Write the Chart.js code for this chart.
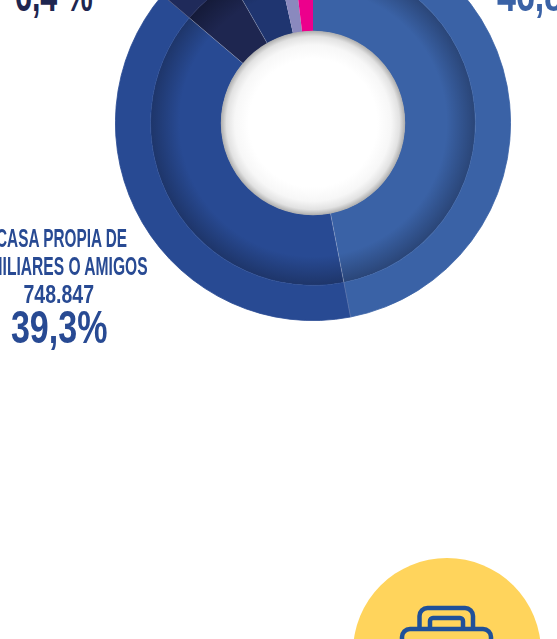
<!DOCTYPE html>
<html lang="es">
<head>
<meta charset="utf-8">
<style>
html,body{margin:0;padding:0;width:557px;height:639px;overflow:hidden;background:#fff}
#wrap{position:absolute;left:115px;top:-75px;width:396px;height:396px}
.t{position:absolute;white-space:nowrap;font-family:"Liberation Sans Narrow","Liberation Sans",sans-serif;font-weight:700;line-height:1;transform-origin:right top}
</style>
<script src="https://cdn.jsdelivr.net/npm/chart.js@4/dist/chart.umd.min.js"></script>
</head>
<body>
<div id="wrap"><canvas id="c" width="396" height="396"></canvas></div>

<div class="t" style="right:430px;top:225px;font-size:26px;color:#284A93;transform:scaleX(.59)">CASA PROPIA DE</div>
<div class="t" style="right:409px;top:253px;font-size:26px;color:#284A93;transform:scaleX(.6)">FAMILIARES O AMIGOS</div>
<div class="t" style="right:463px;top:281px;font-size:26px;color:#284A93;transform:scaleX(.75)">748.847</div>
<div class="t" style="right:450px;top:304px;font-size:46px;color:#284A93;transform:scaleX(.74)">39,3%</div>
<div class="t" style="right:464px;top:-28px;font-size:46px;color:#1E2650;transform:scaleX(.66)">6,4 %</div>
<div class="t" style="left:497px;top:-28px;font-size:46px;color:#3A62A6;transform-origin:left top;transform:scaleX(.74)">46,8%</div>

<svg style="position:absolute;left:0;top:0" width="557" height="639">
  <circle cx="447" cy="652" r="94" fill="#FFD45C"/>
  <g fill="none" stroke="#1F5099" stroke-width="4.5">
    <path d="M419.5 628V616a8 8 0 0 1 8-8H465a8 8 0 0 1 8 8V628"/>
    <path d="M430 628V621a3 3 0 0 1 3-3H460a3 3 0 0 1 3 3V628"/>
    <rect x="402" y="629" width="89" height="40" rx="8"/>
  </g>
</svg>

<script>
const categories = ["Casa propia","Casa propia de familiares o amigos","Arrendada","Otra","Colectiva","Sin dato"];
const shares = [47.0, 39.3, 5.5, 4.8, 1.6, 1.9];
const outerColors = ["#3A62A6","#284A93","#1F2A5A","#1F3570","#8A89BE","#EC008C"];
const innerColors = ["#3A62A6","#284A93","#1E2650","#1F3570","#8A89BE","#EC008C"];
const rimColors   = ["#2A4577","#1E3569","#141A38","#15254E","#8A89BE","#EC008C"];
const separatorAfter = [0,1,2];
const outerWeight = 35, innerWeight = 70.5, cutoutShare = 0.464;

function shaded(ctx){
  const chart = ctx.chart, area = chart.chartArea;
  if(!area) return innerColors[ctx.dataIndex];
  const x = (area.left+area.right)/2, y = (area.top+area.bottom)/2, full = area.width/2;
  const hole = full*cutoutShare;
  const R = hole + (full-hole)*innerWeight/(innerWeight+outerWeight);
  const g = chart.ctx.createRadialGradient(x,y,R*0.7,x,y,R);
  g.addColorStop(0, innerColors[ctx.dataIndex]);
  g.addColorStop(0.4, innerColors[ctx.dataIndex]);
  g.addColorStop(1, rimColors[ctx.dataIndex]);
  return g;
}

const extras = {
  id:"extras",
  afterDatasetsDraw(chart){
    const c = chart.ctx, o = chart.getDatasetMeta(0).data, i = chart.getDatasetMeta(1).data;
    const x = o[0].x, y = o[0].y, r0 = i[0].innerRadius, r1 = o[0].outerRadius;
    c.save();
    c.strokeStyle = "rgba(200,208,228,.4)"; c.lineWidth = .7;
    separatorAfter.forEach(k=>{
      const a = o[k].endAngle;
      c.beginPath();
      c.moveTo(x+Math.cos(a)*r0, y+Math.sin(a)*r0);
      c.lineTo(x+Math.cos(a)*r1, y+Math.sin(a)*r1);
      c.stroke();
    });
    const g = c.createRadialGradient(x,y,r0*0.7,x,y,r0+.5);
    g.addColorStop(0,"#ffffff");
    g.addColorStop(0.5,"#f7f7f7");
    g.addColorStop(0.8,"#e2e2e2");
    g.addColorStop(1,"#adadad");
    c.fillStyle = g;
    c.beginPath(); c.arc(x,y,r0+.5,0,Math.PI*2); c.fill();
    c.restore();
  }
};

new Chart(document.getElementById("c"),{
  type:"doughnut",
  data:{labels:categories,datasets:[
    {data:shares,backgroundColor:outerColors,borderColor:outerColors,borderWidth:.8,weight:outerWeight},
    {data:shares,backgroundColor:shaded,borderWidth:0,weight:innerWeight}
  ]},
  options:{
    responsive:false,animation:false,cutout:(cutoutShare*100)+"%",
    layout:{padding:0},
    plugins:{legend:{display:false},tooltip:{enabled:false}}
  },
  plugins:[extras]
});
</script>
</body>
</html>
